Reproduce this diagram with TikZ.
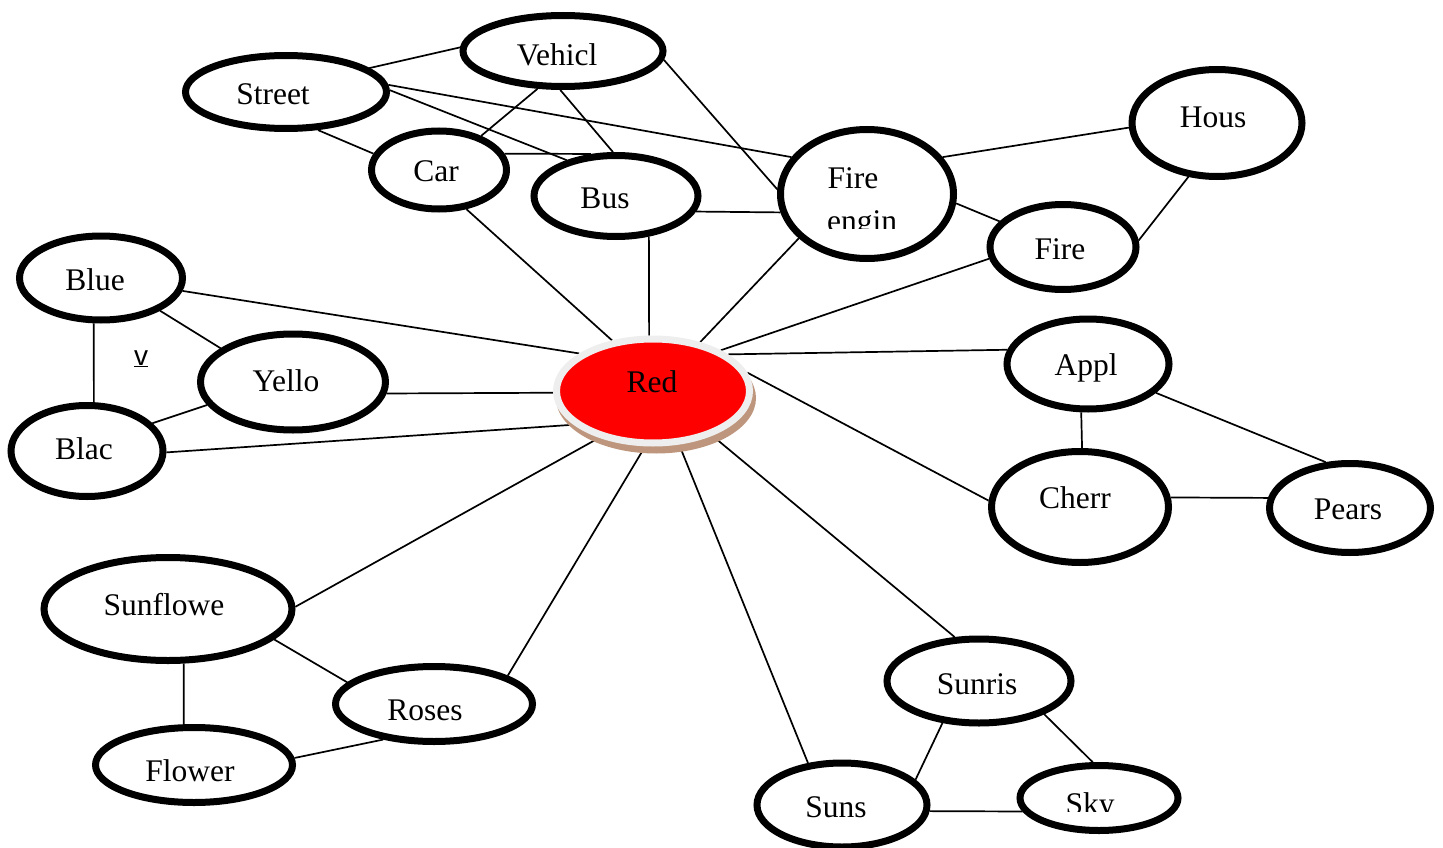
\documentclass[tikz,border=0pt]{standalone}
\usepackage{fontspec}
\setmainfont{Liberation Serif}
\newfontfamily\vsans{Liberation Sans}
\usetikzlibrary{shapes.geometric}
\pgfdeclarelayer{bg}\pgfsetlayers{bg,main}
\definecolor{ringgray}{RGB}{238,238,238}
\definecolor{shadowbrown}{RGB}{190,150,125}
\begin{document}
\begin{tikzpicture}[x=1pt,y=-1pt,
  ell/.style={ellipse, draw=black, line width=7pt, fill=white, inner sep=0pt},
  lbl/.style={font=\fontsize{31.5}{37}\selectfont, anchor=base, inner sep=0pt},
  conn/.style={line width=1.7pt, black}]
\useasboundingbox (0,0) rectangle (1443,848);
% ellipses
\node[ell, minimum width=200pt, minimum height=71pt] (veh) at (563,51) {};
\node[ell, minimum width=201pt, minimum height=73pt] (str) at (286,92) {};
\node[ell, minimum width=135pt, minimum height=78pt] (car) at (439,170) {};
\node[ell, minimum width=164pt, minimum height=81pt] (bus) at (616,196) {};
\node[ell, minimum width=173pt, minimum height=129pt] (fe) at (867,194) {};
\node[ell, minimum width=170pt, minimum height=107pt] (hous) at (1217,123) {};
\node[ell, minimum width=146pt, minimum height=85pt] (fire) at (1063,247) {};
\node[ell, minimum width=163pt, minimum height=84pt] (blue) at (101,278) {};
\node[ell, minimum width=185pt, minimum height=96pt] (yel) at (293,382) {};
\node[ell, minimum width=152pt, minimum height=91pt] (blac) at (87,451) {};
\node[ell, minimum width=162pt, minimum height=90pt] (appl) at (1088,364) {};
\node[ell, minimum width=177pt, minimum height=111pt] (cherr) at (1080,507) {};
\node[ell, minimum width=161pt, minimum height=89pt] (pears) at (1350,508) {};
\node[ell, minimum width=248pt, minimum height=103pt] (sunf) at (168,609) {};
\node[ell, minimum width=197pt, minimum height=75pt] (roses) at (434,704) {};
\node[ell, minimum width=197pt, minimum height=75pt] (flow) at (194,765) {};
\node[ell, minimum width=184pt, minimum height=84pt] (sunr) at (979,681) {};
\node[ell, minimum width=170pt, minimum height=84pt] (suns) at (842,805) {};
\node[ell, minimum width=158pt, minimum height=65pt] (sky) at (1099,798) {};
% red centre
\node[ellipse, fill=shadowbrown, inner sep=0pt, minimum width=200pt, minimum height=111pt] (redshadow) at (656,398) {};
\node[ellipse, fill=red, draw=ringgray, line width=7pt, inner sep=0pt, minimum width=193pt, minimum height=104pt] (red) at (653,391) {};
% labels
\begin{scope}
\clip (450,0) rectangle (680,66);
\node[lbl] (veht) at (557,66) {Vehicl};
\end{scope}
\node[lbl] (strt) at (273,105) {Street};
\node[lbl] (cart) at (436,182) {Car};
\node[lbl] (bust) at (605,208) {Bus};
\node[lbl] (fet1) at (853,189) {Fire};
\begin{scope}
\clip (800,190) rectangle (930,228);
\node[lbl] (fet2) at (862,231) {engin};
\end{scope}
\node[lbl] (houst) at (1213,128) {Hous};
\node[lbl] (firet) at (1060,259) {Fire};
\node[lbl] (bluet) at (95,290) {Blue};
\node[lbl] (yelt) at (286,391) {Yello};
\node[lbl] (blact) at (84,459) {Blac};
\node[lbl] (redt) at (652,392) {Red};
\node[lbl] (applt) at (1086,375) {Appl};
\node[lbl] (cherrt) at (1075,508) {Cherr};
\node[lbl] (pearst) at (1348,519) {Pears};
\node[lbl] (sunft) at (164,615) {Sunflowe};
\node[lbl] (rosest) at (425,720) {Roses};
\node[lbl] (flowt) at (190,781) {Flower};
\node[lbl] (sunrt) at (977,694) {Sunris};
\node[lbl] (sunst) at (836,817) {Suns};
\begin{scope}
\clip (1040,770) rectangle (1150,811);
\node[lbl] (skyt) at (1090,814) {Sky};
\end{scope}
\node[anchor=base, inner sep=0pt, font=\vsans\fontsize{28}{32}\selectfont] (vmark) at (141,365) {\underline{v}};
% connectors
\begin{pgfonlayer}{bg}
\draw[conn] (str.16) -- (veh.178);
\draw[conn] (str.1) -- (bus.144);
\draw[conn] (str.4) -- (fe.154);
\draw[conn] (str.-50) -- (car.166);
\draw[conn] (veh.-124) -- (car.39);
\draw[conn] (veh.-94) -- (bus.94);
\draw[conn] (veh.-5) -- (fe.177);
\draw[conn] (car.14) -- (bus.121);
\draw[conn] (car.-55) -- (red.129);
\draw[conn] (bus.-51) -- (red.94);
\draw[conn] (bus.-11) -- (fe.192);
\draw[conn] (fe.26) -- (hous.183);
\draw[conn] (fe.-6) -- (fire.158);
\draw[conn] (hous.-118) -- (fire.5);
\draw[conn] (fe.-147) -- (red.46);
\draw[conn] (fire.-171) -- (red.31);
\draw[conn] (blue.-9) -- (red.153);
\draw[conn] (blue.-29) -- (yel.155);
\draw[conn] (blue.-99) -- (blac.82);
\draw[conn] (yel.-165) -- (blac.23);
\draw[conn] (yel.-7) -- (red.181);
\draw[conn] (blac.-1) -- (red.-157);
\draw[conn] (red.26) -- (appl.170);
\draw[conn] (red.11) -- (cherr.176);
\draw[conn] (appl.-98) -- (cherr.88);
\draw[conn] (appl.-23) -- (pears.118);
\draw[conn] (cherr.6) -- (pears.173);
\draw[conn] (red.-139) -- (sunf.1);
\draw[conn] (red.-98) -- (roses.21);
\draw[conn] (sunf.-16) -- (roses.166);
\draw[conn] (sunf.-74) -- (flow.104);
\draw[conn] (flow.4) -- (roses.-145);
\draw[conn] (red.-64) -- (suns.129);
\draw[conn] (red.-37) -- (sunr.119);
\draw[conn] (sunr.-131) -- (suns.19);
\draw[conn] (sunr.-27) -- (sky.100);
\draw[conn] (suns.-4) -- (sky.-170);
\end{pgfonlayer}
\end{tikzpicture}
\end{document}
